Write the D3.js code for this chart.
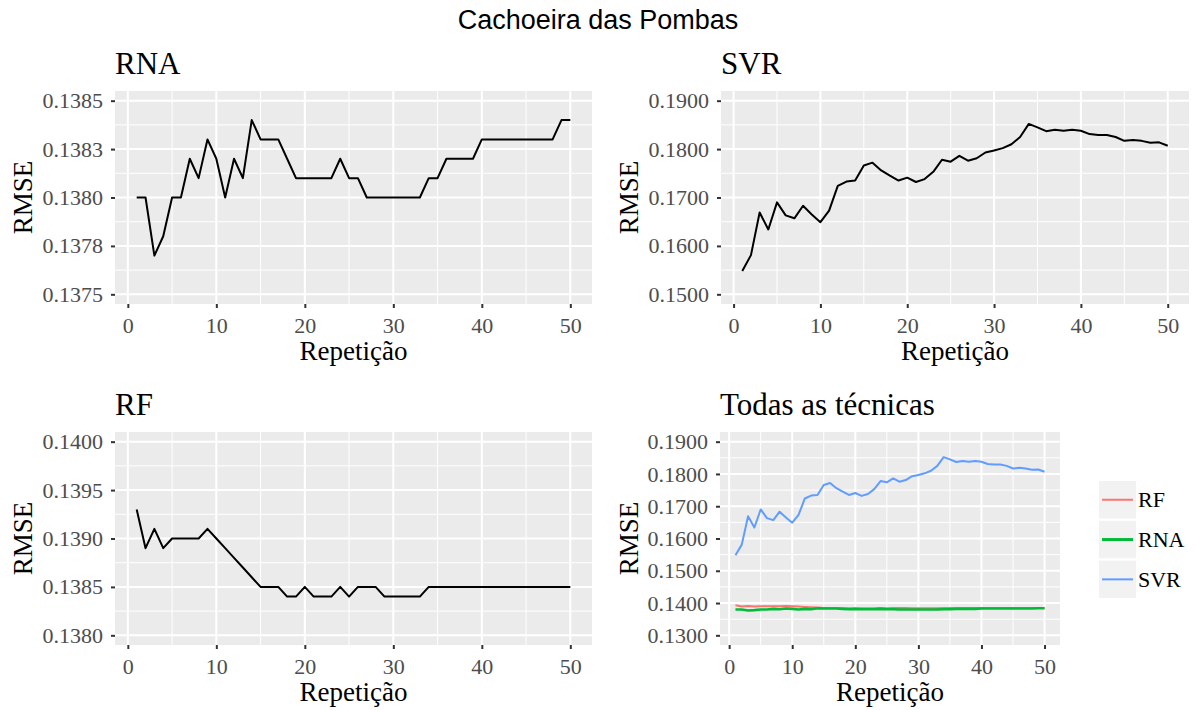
<!DOCTYPE html>
<html>
<head>
<meta charset="utf-8">
<script src="https://cdn.jsdelivr.net/npm/d3@7"></script>
<style>
  body { margin: 0; background: #fff; }
  svg { display: block; }
</style>
</head>
<body>
<div id="chart"></div>
<script>
// repetitions (x categories)
var repeticao = [1,2,3,4,5,6,7,8,9,10,11,12,13,14,15,16,17,18,19,20,
	21,22,23,24,25,26,27,28,29,30,31,32,33,34,35,36,37,38,39,40,
	41,42,43,44,45,46,47,48,49,50];

var rnaRmse = [0.1380,0.1380,0.1377,0.1378,0.1380,0.1380,0.1382,0.1381,0.1383,0.1382,
	0.1380,0.1382,0.1381,0.1384,0.1383,0.1383,0.1383,0.1382,0.1381,0.1381,
	0.1381,0.1381,0.1381,0.1382,0.1381,0.1381,0.1380,0.1380,0.1380,0.1380,
	0.1380,0.1380,0.1380,0.1381,0.1381,0.1382,0.1382,0.1382,0.1382,0.1383,
	0.1383,0.1383,0.1383,0.1383,0.1383,0.1383,0.1383,0.1383,0.1384,0.1384];

var svrRmse = [0.1548,0.1581,0.1669,0.1634,0.1690,0.1663,0.1657,0.1683,0.1665,0.1649,
	0.1673,0.1724,0.1733,0.1735,0.1766,0.1772,0.1756,0.1745,0.1735,0.1741,
	0.1732,0.1738,0.1753,0.1778,0.1774,0.1786,0.1776,0.1781,0.1793,0.1797,
	0.1802,0.1810,0.1825,0.1852,0.1845,0.1837,0.1840,0.1838,0.1840,0.1838,
	0.1831,0.1829,0.1829,0.1825,0.1817,0.1819,0.1817,0.1813,0.1814,0.1807];

var rfRmse = [0.1393,0.1389,0.1391,0.1389,0.1390,0.1390,0.1390,0.1390,0.1391,0.1390,
	0.1389,0.1388,0.1387,0.1386,0.1385,0.1385,0.1385,0.1384,0.1384,0.1385,
	0.1384,0.1384,0.1384,0.1385,0.1384,0.1385,0.1385,0.1385,0.1384,0.1384,
	0.1384,0.1384,0.1384,0.1385,0.1385,0.1385,0.1385,0.1385,0.1385,0.1385,
	0.1385,0.1385,0.1385,0.1385,0.1385,0.1385,0.1385,0.1385,0.1385,0.1385];

var xBreaks = [0, 10, 20, 30, 40, 50];
var xMinor = [5, 15, 25, 35, 45];

var rnaBreaks = [0.1375, 0.13775, 0.138, 0.13825, 0.1385];
var rnaLabels = ["0.1375", "0.1378", "0.1380", "0.1383", "0.1385"];
var svrBreaks = [0.15, 0.16, 0.17, 0.18, 0.19];
var svrLabels = ["0.1500", "0.1600", "0.1700", "0.1800", "0.1900"];
var rfBreaks = [0.138, 0.1385, 0.139, 0.1395, 0.14];
var rfLabels = ["0.1380", "0.1385", "0.1390", "0.1395", "0.1400"];
var allBreaks = [0.13, 0.14, 0.15, 0.16, 0.17, 0.18, 0.19];
var allLabels = ["0.1300", "0.1400", "0.1500", "0.1600", "0.1700", "0.1800", "0.1900"];

var tecnicas = ["RF", "RNA", "SVR"];
var cores = ["#F8766D", "#00BA38", "#619CFF"];

var W = 1196, H = 710;
var serif = "'Liberation Serif', 'Times New Roman', serif";

var svg = d3.select("#chart").append("svg")
	.attr("width", W)
	.attr("height", H);

svg.append("rect").attr("width", W).attr("height", H).attr("fill", "#fff");

svg.append("text")
	.attr("x", 598)
	.attr("y", 29)
	.attr("text-anchor", "middle")
	.style("font-family", "'Liberation Sans', Arial, sans-serif")
	.style("font-size", "27px")
	.attr("fill", "#000")
	.text("Cachoeira das Pombas");

// ggplot style 5% expansion
function expand(lo, hi) {
	var e = (hi - lo) * 0.05;
	return [lo - e, hi + e];
}

function drawPanel(p) {
	var g = svg.append("g").attr("transform", "translate(" + p.left + "," + p.top + ")");
	var w = p.width, h = p.height;

	var x = d3.scaleLinear().domain(expand(1, 50)).range([0, w]);
	var y = d3.scaleLinear().domain(expand(p.yBreaks[0], p.yBreaks[p.yBreaks.length - 1])).range([h, 0]);

	g.append("rect").attr("width", w).attr("height", h).attr("fill", "#EBEBEB");

	var yMinor = [];
	for (var i = 0; i < p.yBreaks.length - 1; i++) yMinor.push((p.yBreaks[i] + p.yBreaks[i + 1]) / 2);

	g.selectAll(".ymin").data(yMinor).enter().append("line")
		.attr("x1", 0).attr("x2", w)
		.attr("y1", function(d) { return y(d); }).attr("y2", function(d) { return y(d); })
		.attr("stroke", "#fff").attr("stroke-width", 1);
	g.selectAll(".xmin").data(xMinor).enter().append("line")
		.attr("y1", 0).attr("y2", h)
		.attr("x1", function(d) { return x(d); }).attr("x2", function(d) { return x(d); })
		.attr("stroke", "#fff").attr("stroke-width", 1);
	g.selectAll(".ymaj").data(p.yBreaks).enter().append("line")
		.attr("x1", 0).attr("x2", w)
		.attr("y1", function(d) { return y(d); }).attr("y2", function(d) { return y(d); })
		.attr("stroke", "#fff").attr("stroke-width", 2);
	g.selectAll(".xmaj").data(xBreaks).enter().append("line")
		.attr("y1", 0).attr("y2", h)
		.attr("x1", function(d) { return x(d); }).attr("x2", function(d) { return x(d); })
		.attr("stroke", "#fff").attr("stroke-width", 2);

	var line = d3.line()
		.x(function(d) { return x(d[0]); })
		.y(function(d) { return y(d[1]); });

	p.series.forEach(function(s) {
		var pts = repeticao.map(function(r, i) { return [r, s.values[i]]; });
		g.append("path")
			.datum(pts)
			.attr("d", line)
			.attr("fill", "none")
			.attr("stroke", s.color)
			.attr("stroke-width", s.width)
			.attr("stroke-linejoin", "round");
	});

	var yAxis = d3.axisLeft(y)
		.tickValues(p.yBreaks)
		.tickFormat(function(d, i) { return p.yLabels[i]; })
		.tickSize(4)
		.tickPadding(8);
	var xAxis = d3.axisBottom(x)
		.tickValues(xBreaks)
		.tickFormat(d3.format("d"))
		.tickSize(4)
		.tickPadding(9);

	var ya = g.append("g").call(yAxis);
	var xa = g.append("g").attr("transform", "translate(0," + h + ")").call(xAxis);

	[ya, xa].forEach(function(a) {
		a.select(".domain").remove();
		a.selectAll(".tick line").attr("stroke", "#333333").attr("stroke-width", 2);
		a.selectAll(".tick text")
			.attr("fill", "#4D4D4D")
			.style("font-family", serif)
			.style("font-size", "22px");
	});

	g.append("text")
		.attr("x", 0)
		.attr("y", -17)
		.style("font-family", serif)
		.style("font-size", "31px")
		.attr("fill", "#000")
		.text(p.title);

	g.append("text")
		.attr("x", w / 2)
		.attr("y", h + 56)
		.attr("text-anchor", "middle")
		.style("font-family", serif)
		.style("font-size", "27px")
		.attr("fill", "#000")
		.text("Repetição");

	g.append("text")
		.attr("transform", "translate(" + (p.rmseX - p.left) + "," + (h / 2) + ") rotate(-90)")
		.attr("text-anchor", "middle")
		.style("font-family", serif)
		.style("font-size", "27px")
		.attr("fill", "#000")
		.text("RMSE");
}

drawPanel({
	title: "RNA", left: 115, top: 91, width: 477, height: 213, rmseX: 32,
	yBreaks: rnaBreaks, yLabels: rnaLabels,
	series: [{ values: rnaRmse, color: "#000", width: 2 }]
});

drawPanel({
	title: "SVR", left: 721, top: 91, width: 468, height: 213, rmseX: 638,
	yBreaks: svrBreaks, yLabels: svrLabels,
	series: [{ values: svrRmse, color: "#000", width: 2 }]
});

drawPanel({
	title: "RF", left: 115, top: 432, width: 477, height: 213, rmseX: 32,
	yBreaks: rfBreaks, yLabels: rfLabels,
	series: [{ values: rfRmse, color: "#000", width: 2 }]
});

drawPanel({
	title: "Todas as técnicas", left: 720, top: 432, width: 340, height: 213, rmseX: 638,
	yBreaks: allBreaks, yLabels: allLabels,
	series: [
		{ values: rfRmse, color: cores[0], width: 2 },
		{ values: rnaRmse, color: cores[1], width: 2.6 },
		{ values: svrRmse, color: cores[2], width: 2 }
	]
});

// legend
var leg = svg.append("g").attr("transform", "translate(1099,481)");
var keyW = 37, keyH = 37.5, keyGap = 2.3;
var keyWidths = [2, 3, 2];
tecnicas.forEach(function(t, i) {
	var k = leg.append("g").attr("transform", "translate(0," + (i * (keyH + keyGap)) + ")");
	k.append("rect").attr("width", keyW).attr("height", keyH).attr("fill", "#F2F2F2");
	k.append("line")
		.attr("x1", 3).attr("x2", keyW - 3)
		.attr("y1", keyH / 2).attr("y2", keyH / 2)
		.attr("stroke", cores[i]).attr("stroke-width", keyWidths[i]);
	k.append("text")
		.attr("x", keyW + 2)
		.attr("y", keyH / 2 + 7.5)
		.style("font-family", serif)
		.style("font-size", "22px")
		.attr("fill", "#000")
		.text(t);
});
</script>
</body>
</html>
